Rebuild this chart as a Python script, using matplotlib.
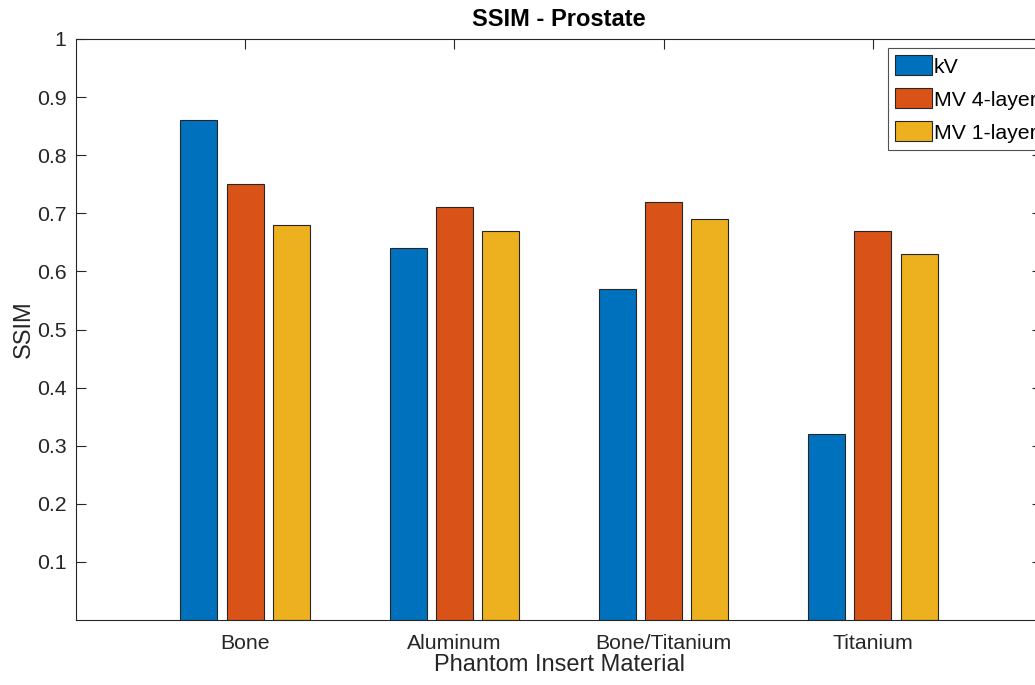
import numpy as np
import matplotlib
matplotlib.use("Agg")
import matplotlib.pyplot as plt

plt.rcParams["font.family"] = ["Liberation Sans", "DejaVu Sans"]

materials = ["Bone", "Aluminum", "Bone/Titanium", "Titanium"]
series = ["kV", "MV 4-layer", "MV 1-layer"]
ssim_kv = [0.86, 0.64, 0.57, 0.32]
ssim_mv4 = [0.75, 0.71, 0.72, 0.67]
ssim_mv1 = [0.68, 0.67, 0.69, 0.63]
yticks = [0.1, 0.2, 0.3, 0.4, 0.5, 0.6, 0.7, 0.8, 0.9, 1]

colors = ["#0072BD", "#D95319", "#EDB120"]

fig = plt.figure(figsize=(10.35, 6.85), dpi=100)
# axes run a little past the right edge of the canvas
ax = fig.add_axes([76 / 1035, 1 - 620 / 685, 966 / 1035, 581 / 685])

x = np.arange(1, len(materials) + 1)
step, width = 0.222, 0.177
for i, (vals, name) in enumerate(zip([ssim_kv, ssim_mv4, ssim_mv1], series)):
    ax.bar(x + (i - 1) * step, vals, width, color=colors[i], edgecolor="#262626",
           linewidth=0.8, label=name, zorder=2)

ax.set_xlim(0.19, 4.81)
ax.set_ylim(0, 1)
ax.set_xticks(x)
ax.set_xticklabels(materials)
ax.set_yticks(yticks)
ax.set_yticklabels([f"{v:g}" for v in yticks])
ax.tick_params(direction="in", length=7, width=0.8, colors="#262626",
               labelsize=15.3, top=True, right=True)
ax.tick_params(axis="x", pad=10)
ax.tick_params(axis="y", pad=7)
for s in ax.spines.values():
    s.set_color("#262626")
    s.set_linewidth(0.8)

ax.set_xlabel("Phantom Insert Material", fontsize=17, color="#262626", labelpad=1)
ax.set_ylabel("SSIM", fontsize=17, color="#262626", labelpad=1)
ax.set_title("SSIM - Prostate", fontsize=17, fontweight="bold", color="black", pad=9)

leg = ax.legend(loc="upper left", bbox_to_anchor=(812 / 966, 1 - 9 / 581),
                fontsize=15.3, frameon=True, fancybox=False, borderaxespad=0,
                handlelength=1.7, handleheight=1.07, handletextpad=0.12,
                labelspacing=0.55, borderpad=0.35)
leg.get_frame().set_edgecolor("#262626")
leg.get_frame().set_linewidth(0.8)

fig.savefig("out.png", dpi=100)
